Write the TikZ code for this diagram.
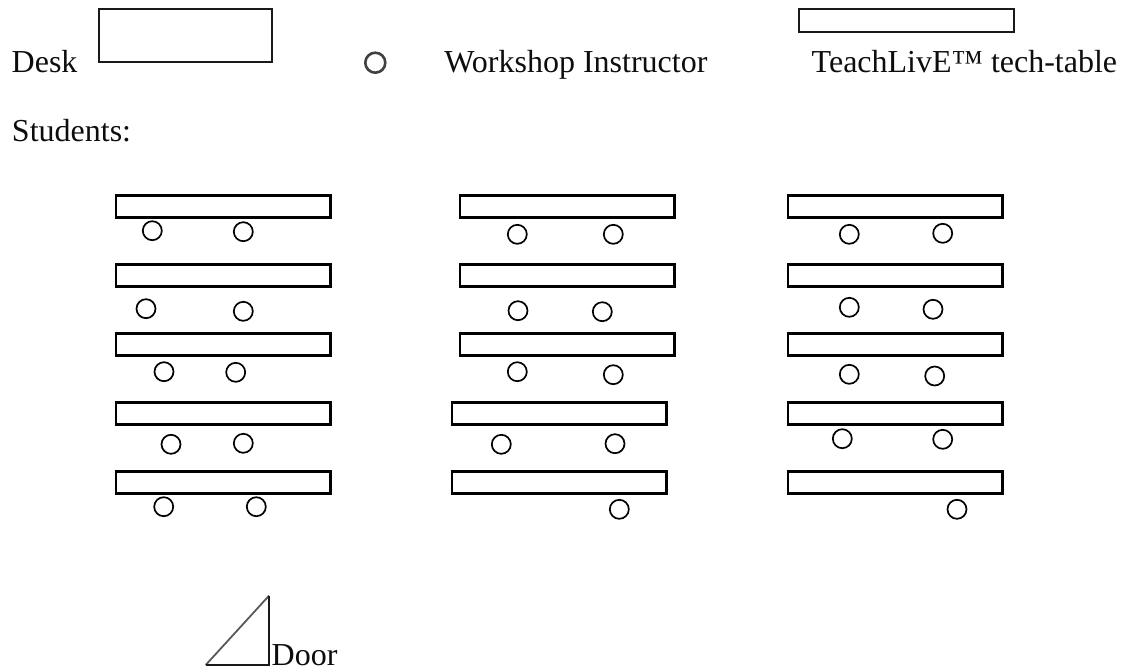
\documentclass[tikz,border=0pt]{standalone}
\usepackage{fontspec}
\setmainfont{Liberation Serif}
\tikzset{
  txt/.style={anchor=base west,inner sep=0pt,outer sep=0pt,font=\fontsize{32}{38}\selectfont,text=black!95},
  tablebox/.style={draw=black,line width=2.5pt,fill=white,inner sep=0pt,outer sep=0pt,minimum width=214.5pt,minimum height=22pt,anchor=north west},
  legendbox/.style={draw=black!90,line width=1.8pt,fill=white,inner sep=0pt,outer sep=0pt,anchor=north west},
  seat/.style={circle,draw=black,line width=1.7pt,fill=white,inner sep=0pt,outer sep=0pt,minimum size=19pt},
}
\begin{document}
\begin{tikzpicture}[x=1pt,y=-1pt]
\useasboundingbox (0,0) rectangle (1123,669);
% legend
\node[txt] (desklabel) at (11.7,72.7) {Desk};
\node[legendbox,minimum width=173pt,minimum height=52.5pt] (desk) at (99,9.3) {};
\node[circle,draw=black!75,line width=2.6pt,fill=white,inner sep=0pt,outer sep=0pt,minimum size=20pt] (instructor) at (375.3,62.7) {};
\node[txt] (instructorlabel) at (444.3,72.7) {Workshop Instructor};
\node[legendbox,minimum width=215pt,minimum height=22.5pt] (techtable) at (799,9.3) {};
\node[txt] (techlabel) at (811.7,72.7) {TeachLivE™ tech-table};
\node[txt] (students) at (12,141.7) {Students:};
% tables
\foreach \nm/\x/\y in {
  a1/116.2/195.6, a2/116.2/264.6, a3/116.2/333.6, a4/116.2/402.6, a5/116.2/471.6,
  b1/460.2/195.6, b2/460.2/264.6, b3/460.2/333.6, b4/452.2/402.6, b5/452.2/471.6,
  c1/788.2/195.6, c2/788.2/264.6, c3/788.2/333.6, c4/788.2/402.6, c5/788.2/471.6}
  \node[tablebox] (table\nm) at (\x,\y) {};
% students
\foreach \nm/\x/\y in {
  a1l/152.3/230.7, a1r/243.3/231.7, a2l/146/308.7, a2r/243.3/311.3,
  a3l/164/371.7, a3r/235.7/372.3, a4l/171/444.3, a4r/243.3/443.3,
  a5l/163.7/506.7, a5r/256.3/506.7,
  b1l/517.3/234.3, b1r/613.3/234.3, b2l/518/310.7, b2r/602.3/311.7,
  b3l/517.3/371.7, b3r/613.3/374.7, b4l/501.3/444.3, b4r/615/443.7,
  b5r/619.3/509.3,
  c1l/849.3/234.3, c1r/942.7/233.3, c2l/849.3/307.3, c2r/933/309.3,
  c3l/849.3/374.3, c3r/934.7/376, c4l/842.3/438.7, c4r/942.7/439.3,
  c5r/957/509.3}
  \node[seat] (seat\nm) at (\x,\y) {};
% door
\draw[black!65,line width=1.8pt] (205.7,665) -- (269,595.7);
\draw[black!90,line width=1.5pt] (269,595.7) -- (269,665) -- (205.7,665);
\node[txt] (door) at (271.7,665) {Door};
\end{tikzpicture}
\end{document}
